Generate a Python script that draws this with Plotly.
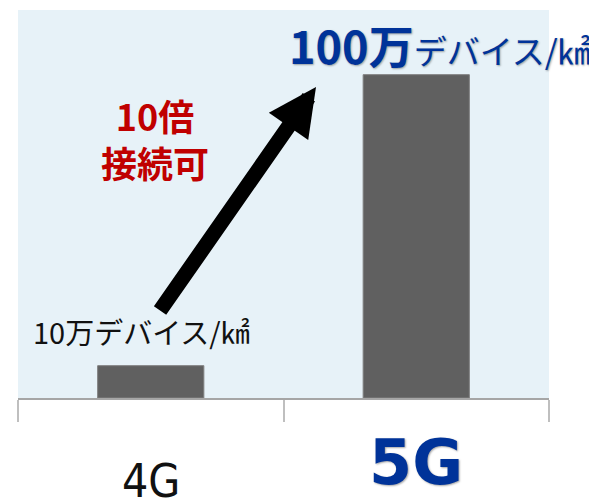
import plotly.graph_objects as go

categories = ["4G", "5G"]
density_man = [10, 100]  # 万デバイス/㎢

label_4g = "10万デバイス/㎢"
label_5g_big = "100万"
label_5g_small = "デバイス/㎢"
ratio_text = "10倍<br>接続可"

BLUE = "#003399"
RED = "#c00000"
JP = "Noto Sans CJK JP, Noto Sans, sans-serif"
SHADOW = "1px 1px 2px rgba(0,0,0,0.35)"

fig = go.Figure(
    go.Bar(
        x=categories,
        y=density_man,
        width=0.4,
        marker=dict(color="#606060", line=dict(color="#808080", width=1)),
        hoverinfo="skip",
    )
)

fig.update_layout(
    width=589,
    height=492,
    margin=dict(l=10, r=48, t=2, b=102),
    paper_bgcolor="white",
    plot_bgcolor="#e7f2f8",
    showlegend=False,
    xaxis=dict(
        showticklabels=False,
        showline=True,
        linecolor="#a6a6a6",
        linewidth=1.5,
        ticks="outside",
        tickson="boundaries",
        ticklen=22,
        tickcolor="#bfbfbf",
        tickwidth=1.5,
        showgrid=False,
        range=[-0.5, 1.5],
    ),
    yaxis=dict(
        range=[0, 120],
        visible=False,
        showgrid=False,
        zeroline=False,
    ),
)

annotations = [
    # category labels
    dict(x=categories[0], xref="x", y=-0.215, yref="paper", text=categories[0],
         showarrow=False, xanchor="center", yanchor="middle",
         font=dict(family="Liberation Sans Narrow, DejaVu Sans Condensed, sans-serif",
                   size=46, color="#111111")),
    dict(x=categories[1], xref="x", y=-0.166, yref="paper", text="<b>" + categories[1] + "</b>",
         showarrow=False, xanchor="center", yanchor="middle",
         font=dict(family="DejaVu Sans, Verdana, sans-serif", size=62, color=BLUE, shadow=SHADOW)),
    # value labels
    dict(x=0.2335, xref="paper", y=0.173, yref="paper", text=label_4g,
         showarrow=False, xanchor="center", yanchor="middle",
         font=dict(family=JP, size=29, color="#111111")),
    dict(x=0.506, xref="paper", y=0.91, yref="paper",
         text="<b>" + label_5g_big + "</b><span style='font-size:33px'>" + label_5g_small + "</span>",
         showarrow=False, xanchor="left", yanchor="middle",
         font=dict(family=JP, size=45, color=BLUE, shadow=SHADOW)),
    # ratio text
    dict(x=0.258, xref="paper", y=0.67, yref="paper", text="<b>" + ratio_text + "</b>",
         showarrow=False, xanchor="center", yanchor="middle",
         font=dict(family=JP, size=36, color=RED)),
    # arrow
    dict(x=0.5612, xref="paper", y=0.8015, yref="paper", text="",
         showarrow=True, arrowhead=2, arrowwidth=15, arrowsize=0.64,
         arrowcolor="black", ax=-157, ay=225, standoff=0),
]
fig.update_layout(annotations=annotations)

fig.write_html("out.html")
